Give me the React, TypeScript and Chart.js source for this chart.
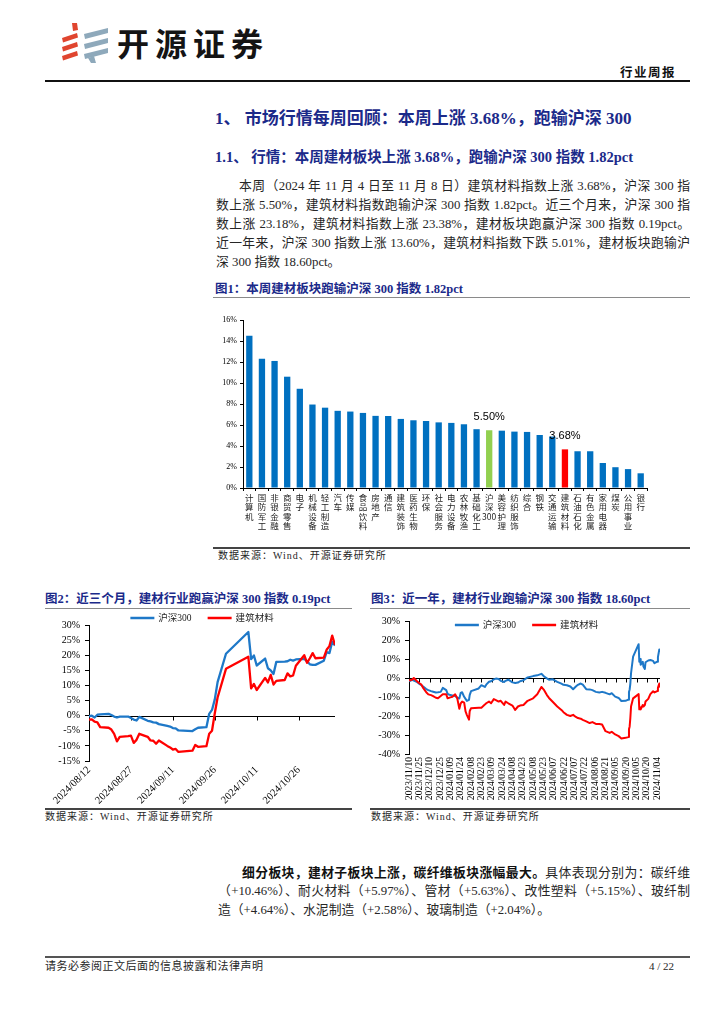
import React, { useEffect, useRef } from 'react';
import { Chart, registerables } from 'chart.js';

Chart.register(...registerables);

const SERIF = '"Liberation Serif", "Times New Roman", "Noto Sans CJK SC", serif';
const SANS_CJK = '"Noto Sans CJK SC", "Noto Sans", sans-serif';
const NAVY = '#1B2A8A';
const BAR_BLUE = '#0070C0';
const BAR_GREEN = '#92D050';
const BAR_RED = '#FF0000';
const LINE_BLUE = '#1E78C8';
const LINE_RED = '#FF0000';

// ---------- 图1 data ----------
const industries = ['计算机', '国防军工', '非银金融', '商贸零售', '电子', '机械设备', '轻工制造', '汽车', '传媒', '食品饮料', '房地产', '通信', '建筑装饰', '医药生物', '环保', '社会服务', '电力设备', '农林牧渔', '基础化工', '沪深300', '美容护理', '纺织服饰', '综合', '钢铁', '交通运输', '建筑材料', '石油石化', '有色金属', '家用电器', '煤炭', '公用事业', '银行'];
const weeklyChange = [14.5, 12.3, 12.1, 10.6, 9.45, 7.95, 7.65, 7.35, 7.28, 7.15, 6.87, 6.86, 6.58, 6.45, 6.38, 6.25, 6.2, 6.07, 5.6, 5.5, 5.46, 5.37, 5.34, 5.05, 4.9, 3.68, 3.5, 3.5, 2.38, 1.98, 1.8, 1.4];
const highlightNames = ['沪深300', '建筑材料'];

// ---------- 图2 data (近三个月) ----------
const quarterDates = [
  '2024/08/12', '2024/08/13', '2024/08/14', '2024/08/15', '2024/08/16', '2024/08/19', '2024/08/20', '2024/08/21', '2024/08/22', '2024/08/23', '2024/08/26', '2024/08/27', '2024/08/28', '2024/08/29', '2024/08/30',
  '2024/09/02', '2024/09/03', '2024/09/04', '2024/09/05', '2024/09/06', '2024/09/09', '2024/09/10', '2024/09/11', '2024/09/12', '2024/09/13', '2024/09/18', '2024/09/19', '2024/09/20', '2024/09/23', '2024/09/24', '2024/09/25', '2024/09/26', '2024/09/27', '2024/09/30',
  '2024/10/08', '2024/10/09', '2024/10/10', '2024/10/11', '2024/10/14', '2024/10/15', '2024/10/16', '2024/10/17', '2024/10/18', '2024/10/21', '2024/10/22', '2024/10/23', '2024/10/24', '2024/10/25', '2024/10/28', '2024/10/29', '2024/10/30', '2024/10/31',
  '2024/11/01', '2024/11/04', '2024/11/05', '2024/11/06', '2024/11/07', '2024/11/08'];
const quarterHS300 = [
  -0.2, 0.0, -0.6, 0.3, 0.4, 0.6, 0.2, -0.3, -0.6, -0.3, -0.3, -0.8, -1.3, -1.6, -0.4,
  -1.7, -1.9, -2.2, -2.3, -2.8, -3.4, -3.6, -4.1, -4.2, -4.9, -5.1, -4.5, -4.0, -3.8, 0.6, 1.9, 5.4, 11.1, 20.5,
  27.7, 18.7, 19.9, 16.6, 18.9, 15.7, 15.0, 13.8, 17.8, 17.9, 18.0, 18.5, 18.2, 18.6, 18.8, 18.0, 17.0, 16.8,
  16.8, 18.2, 21.0, 20.7, 24.5, 23.2];
const quarterJCCL = [
  -1.3, -1.2, -2.0, -2.2, -3.8, -4.0, -4.6, -6.0, -8.5, -7.0, -6.8, -6.6, -9.0, -8.0, -6.0,
  -7.0, -8.2, -8.3, -9.3, -8.2, -10.0, -10.5, -11.2, -11.0, -12.0, -11.6, -9.7, -10.3, -10.1, -6.0, -5.0, 0.8, 6.0, 15.5,
  19.5, 9.0, 10.5, 8.5, 12.5, 11.0, 13.5, 10.3, 11.5, 11.8, 14.0, 13.0, 13.3, 16.5, 20.0, 17.5, 19.0, 20.7,
  19.0, 19.2, 21.8, 23.0, 26.5, 23.4];
const quarterTicks = ['2024/08/12', '2024/08/27', '2024/09/11', '2024/09/26', '2024/10/11', '2024/10/26'];

// ---------- 图3 data (近一年) ----------
const yearDates = [
  '2023/11/10', '2023/11/15', '2023/11/17', '2023/11/22', '2023/11/24', '2023/11/28', '2023/12/01', '2023/12/05', '2023/12/08', '2023/12/12', '2023/12/15', '2023/12/19', '2023/12/22', '2023/12/26', '2023/12/29',
  '2024/01/03', '2024/01/05', '2024/01/09', '2024/01/12', '2024/01/16', '2024/01/19', '2024/01/22', '2024/01/24', '2024/01/26', '2024/01/29', '2024/01/31', '2024/02/02', '2024/02/05', '2024/02/06', '2024/02/08',
  '2024/02/19', '2024/02/23', '2024/02/28', '2024/03/01', '2024/03/05', '2024/03/08', '2024/03/12', '2024/03/15', '2024/03/19', '2024/03/22', '2024/03/27', '2024/03/29',
  '2024/04/02', '2024/04/08', '2024/04/12', '2024/04/16', '2024/04/19', '2024/04/24', '2024/04/30',
  '2024/05/08', '2024/05/14', '2024/05/20', '2024/05/24', '2024/05/28', '2024/05/31',
  '2024/06/05', '2024/06/12', '2024/06/18', '2024/06/21', '2024/06/26',
  '2024/07/01', '2024/07/05', '2024/07/09', '2024/07/12', '2024/07/16', '2024/07/19', '2024/07/24', '2024/07/29',
  '2024/08/02', '2024/08/07', '2024/08/12', '2024/08/16', '2024/08/21', '2024/08/27', '2024/08/30',
  '2024/09/04', '2024/09/09', '2024/09/13', '2024/09/19', '2024/09/23', '2024/09/24', '2024/09/25', '2024/09/26', '2024/09/27', '2024/09/30',
  '2024/10/08', '2024/10/09', '2024/10/10', '2024/10/11', '2024/10/14', '2024/10/15', '2024/10/17', '2024/10/18', '2024/10/22', '2024/10/25', '2024/10/29', '2024/10/31',
  '2024/11/04', '2024/11/05', '2024/11/07', '2024/11/08'];
const yearHS300 = [
  -1.7, -1.0, -1.4, -2.2, -2.8, -3.8, -4.6, -5.8, -6.4, -6.9, -7.2, -7.6, -7.5, -7.3, -5.2,
  -6.4, -8.4, -9.0, -9.2, -9.5, -10.4, -10.8, -7.8, -7.5, -9.9, -11.0, -12.1, -11.5, -9.0, -6.9,
  -5.5, -3.8, -4.7, -3.5, -2.0, -1.7, -0.7, -0.3, -0.5, -1.5, -2.1, -1.5,
  -0.9, -2.3, -2.6, -2.4, -1.7, -1.2, 0.3,
  1.0, 1.4, 2.2, 0.8, -0.2, -0.9,
  -0.6, -2.0, -3.0, -3.6, -3.8,
  -4.5, -5.9, -4.5, -3.6, -2.9, -3.5, -5.9, -6.0,
  -6.4, -7.3, -7.6, -7.3, -7.8, -8.6, -8.0,
  -9.8, -10.5, -12.1, -12.0, -11.4, -7.4, -6.0, -2.9, 2.5, 11.2,
  17.8, 8.6, 10.0, 7.0, 8.5, 6.0, 4.8, 8.3, 9.2, 9.5, 9.0, 7.8,
  8.6, 11.0, 15.0, 13.6];
const yearJCCL = [
  -1.4, -0.8, 0.0, -1.8, -2.5, -3.5, -5.5, -7.5, -8.6, -9.0, -9.5, -10.4, -10.7, -9.5, -8.6,
  -8.6, -10.7, -10.2, -9.9, -8.6, -10.7, -16.2, -13.3, -12.4, -13.0, -17.6, -19.5, -21.9, -17.5, -15.9,
  -15.6, -15.6, -14.0, -13.3, -12.4, -13.3, -11.1, -11.6, -12.4, -12.0, -14.2, -12.4,
  -13.3, -14.5, -16.8, -15.0, -14.5, -14.2, -12.0,
  -10.7, -8.6, -4.7, -6.4, -9.0, -10.5,
  -12.4, -15.0, -16.8, -18.0, -19.4,
  -20.0, -19.4, -20.5, -21.1, -21.4, -22.0, -22.8, -23.7,
  -23.2, -24.2, -24.2, -24.5, -28.0, -28.9, -28.3,
  -29.7, -30.6, -31.8, -31.5, -31.1, -27.0, -25.5, -21.0, -15.0, -10.7,
  -8.5, -16.5, -15.5, -16.5, -14.2, -15.0, -14.2, -12.4, -11.0, -8.5, -7.0, -7.6,
  -6.9, -5.2, -2.9, -5.0];
const yearTicks = ['2023/11/10', '2023/11/25', '2023/12/10', '2023/12/25', '2024/01/09', '2024/01/24', '2024/02/08', '2024/02/23', '2024/03/09', '2024/03/24', '2024/04/08', '2024/04/23', '2024/05/08', '2024/05/23', '2024/06/07', '2024/06/22', '2024/07/07', '2024/07/22', '2024/08/06', '2024/08/21', '2024/09/05', '2024/09/20', '2024/10/05', '2024/10/20', '2024/11/04'];

const seriesNames = ['沪深300', '建筑材料'];

// ---------- text ----------
const para1Lines = [
  '本周（2024 年 11 月 4 日至 11 月 8 日）建筑材料指数上涨 3.68%，沪深 300 指',
  '数上涨 5.50%，建筑材料指数跑输沪深 300 指数 1.82pct。近三个月来，沪深 300 指',
  '数上涨 23.18%，建筑材料指数上涨 23.38%，建材板块跑赢沪深 300 指数 0.19pct。',
  '近一年来，沪深 300 指数上涨 13.60%，建筑材料指数下跌 5.01%，建材板块跑输沪',
];
const para1Last = '深 300 指数 18.60pct。';
const para2Bold = '细分板块，建材子板块上涨，碳纤维板块涨幅最大。';
const para2Line1 = '具体表现分别为：碳纤维';
const para2Line2 = '（+10.46%）、耐火材料（+5.97%）、管材（+5.63%）、改性塑料（+5.15%）、玻纤制';
const para2Last = '造（+4.64%）、水泥制造（+2.58%）、玻璃制造（+2.04%）。';

const DAY_MS = 86400000;
function dayOffset(date: string, base: string): number {
  const [a, b, c] = date.split('/').map(Number);
  const [d, e, f] = base.split('/').map(Number);
  return Math.round((Date.UTC(a, b - 1, c) - Date.UTC(d, e - 1, f)) / DAY_MS);
}

function stackLabel(s: string): string[] {
  return s.match(/[0-9A-Za-z]+|./g) || [s];
}

// ---------- plugins ----------
const barValueLabels = {
  id: 'barValueLabels',
  afterDatasetsDraw(chart: any, _args: any, opts: any) {
    const { ctx } = chart;
    const meta = chart.getDatasetMeta(0);
    const labels: string[] = chart.data.labels;
    const values: number[] = chart.data.datasets[0].data;
    ctx.save();
    ctx.font = '11px "Liberation Sans", "Noto Sans", sans-serif';
    ctx.fillStyle = '#000';
    ctx.textAlign = 'center';
    ctx.textBaseline = 'middle';
    (opts.names || []).forEach((name: string) => {
      const i = labels.indexOf(name);
      if (i < 0) return;
      const bar = meta.data[i];
      ctx.fillText(values[i].toFixed(2) + '%', bar.x, bar.y - 13);
    });
    ctx.restore();
  },
};

const zeroLine = {
  id: 'zeroLine',
  beforeDatasetsDraw(chart: any) {
    const { ctx, chartArea } = chart;
    const y = Math.round(chart.scales.y.getPixelForValue(0)) + 0.5;
    ctx.save();
    ctx.strokeStyle = '#000';
    ctx.lineWidth = 1;
    ctx.beginPath();
    ctx.moveTo(chartArea.left, y);
    ctx.lineTo(chartArea.right, y);
    chart.scales.x.ticks.forEach((t: any) => {
      const x = Math.round(chart.scales.x.getPixelForValue(t.value)) + 0.5;
      ctx.moveTo(x, y);
      ctx.lineTo(x, y + 4);
    });
    ctx.stroke();
    ctx.restore();
  },
};

const lineLegend = {
  id: 'lineLegend',
  afterDraw(chart: any, _args: any, opts: any) {
    const { ctx, chartArea } = chart;
    ctx.save();
    ctx.font = `${opts.fontSize || 9.5}px ${SERIF}`;
    const sample = opts.sampleWidth || 24;
    const gap = 4;
    const itemGap = 16;
    const items = chart.data.datasets.map((ds: any) => ({ text: ds.label, color: ds.borderColor }));
    const widths = items.map((it: any) => sample + gap + ctx.measureText(it.text).width);
    const total = widths.reduce((a: number, b: number) => a + b, 0) + itemGap * (items.length - 1);
    let x = (chartArea.left + chartArea.right) / 2 + (opts.offsetX || 0) - total / 2;
    const y = chartArea.top + (opts.offsetY || 0);
    items.forEach((it: any, i: number) => {
      ctx.strokeStyle = it.color;
      ctx.lineWidth = 2.5;
      ctx.beginPath();
      ctx.moveTo(x, y);
      ctx.lineTo(x + sample, y);
      ctx.stroke();
      ctx.fillStyle = '#222';
      ctx.textAlign = 'left';
      ctx.textBaseline = 'middle';
      ctx.fillText(it.text, x + sample + gap, y + 0.5);
      x += widths[i] + itemGap;
    });
    ctx.restore();
  },
};

// ---------- chart configs ----------
function barConfig(): any {
  return {
    type: 'bar',
    data: {
      labels: industries,
      datasets: [{
        data: weeklyChange,
        backgroundColor: industries.map((n) => (n === '沪深300' ? BAR_GREEN : n === '建筑材料' ? BAR_RED : BAR_BLUE)),
        barPercentage: 0.5,
        categoryPercentage: 1,
      }],
    },
    options: {
      responsive: false,
      animation: false,
      layout: { padding: { left: 0, right: 43, top: 15, bottom: 0 } },
      plugins: { legend: { display: false }, tooltip: { enabled: false }, barValueLabels: { names: highlightNames } },
      scales: {
        x: {
          grid: { display: true, drawOnChartArea: false, drawTicks: true, tickLength: 3, color: '#000', offset: true },
          border: { color: '#000', width: 1 },
          ticks: {
            autoSkip: false, maxRotation: 0, minRotation: 0, padding: 2, color: '#222',
            font: { family: SANS_CJK, size: 8.5, lineHeight: 1.1 },
            callback: (_v: any, i: number) => stackLabel(industries[i]),
          },
          afterFit: (s: any) => { s.height = 57; },
        },
        y: {
          min: 0, max: 16,
          ticks: { stepSize: 2, padding: 3, color: '#000', font: { family: SERIF, size: 8 }, callback: (v: any) => v + '%' },
          grid: { drawOnChartArea: false, tickLength: 3, color: '#000' },
          border: { color: '#000', width: 1 },
          afterFit: (s: any) => { s.width = 30; },
        },
      },
    },
    plugins: [barValueLabels],
  };
}

function lineConfig(p: {
  dates: string[]; hs: number[]; jc: number[]; ticks: string[];
  yMin: number; yMax: number; yStep: number; rotation: number; xFont: number;
  yWidth: number; xHeight: number; padRight: number; padTop: number;
  legendX: number; legendY: number; lineWidth: number;
}): any {
  const base = p.dates[0];
  const xs = p.dates.map((d) => dayOffset(d, base));
  const tickVals = p.ticks.map((d) => dayOffset(d, base));
  return {
    type: 'line',
    data: {
      datasets: [
        { label: seriesNames[0], data: xs.map((x, i) => ({ x, y: p.hs[i] })), borderColor: LINE_BLUE, backgroundColor: LINE_BLUE, borderWidth: p.lineWidth, pointRadius: 0, tension: 0, order: 2, borderJoinStyle: 'round' },
        { label: seriesNames[1], data: xs.map((x, i) => ({ x, y: p.jc[i] })), borderColor: LINE_RED, backgroundColor: LINE_RED, borderWidth: p.lineWidth, pointRadius: 0, tension: 0, order: 1, borderJoinStyle: 'round' },
      ],
    },
    options: {
      responsive: false,
      animation: false,
      layout: { padding: { left: 0, right: p.padRight, top: p.padTop, bottom: 0 } },
      plugins: { legend: { display: false }, tooltip: { enabled: false }, lineLegend: { offsetX: p.legendX, offsetY: p.legendY, fontSize: 9.5, sampleWidth: 24 } },
      scales: {
        x: {
          type: 'linear',
          min: 0,
          max: xs[xs.length - 1],
          afterBuildTicks: (s: any) => { s.ticks = tickVals.map((v) => ({ value: v })); },
          ticks: {
            autoSkip: false, maxRotation: p.rotation, minRotation: p.rotation, padding: 3, color: '#000',
            font: { family: SERIF, size: p.xFont },
            callback: (_v: any, i: number) => p.ticks[i],
          },
          grid: { display: false, drawTicks: false },
          border: { display: false },
          afterFit: (s: any) => { s.height = p.xHeight; },
        },
        y: {
          min: p.yMin, max: p.yMax,
          ticks: { stepSize: p.yStep, padding: 5, color: '#000', font: { family: SERIF, size: 10 }, callback: (v: any) => v + '%' },
          grid: { drawOnChartArea: false, tickLength: 4, color: '#000' },
          border: { color: '#000', width: 1 },
          afterFit: (s: any) => { s.width = p.yWidth; },
        },
      },
    },
    plugins: [zeroLine, lineLegend],
  };
}

function ChartBox({ left, top, width, height, build }: { left: number; top: number; width: number; height: number; build: () => any }) {
  const ref = useRef<HTMLCanvasElement>(null);
  useEffect(() => {
    const chart = new Chart(ref.current as HTMLCanvasElement, build());
    return () => chart.destroy();
  }, []);
  return (
    <div style={{ position: 'absolute', left, top, width, height }}>
      <canvas ref={ref} width={width} height={height} style={{ width, height, display: 'block' }} />
    </div>
  );
}

function Txt({ x, cy, size, lh, children, style }: { x: number; cy: number; size: number; lh: number; children: any; style?: any }) {
  return (
    <div style={{ position: 'absolute', left: x, top: cy - lh / 2, fontSize: size, lineHeight: lh + 'px', whiteSpace: 'nowrap', ...style }}>
      {children}
    </div>
  );
}

function Rule({ x, y, w, h, color }: { x: number; y: number; w: number; h: number; color: string }) {
  return <div style={{ position: 'absolute', left: x, top: y, width: w, height: h, background: color }} />;
}

function Logo() {
  const red = '#E0452F';
  const grey = '#8EA9BB';
  return (
    <svg style={{ position: 'absolute', left: 0, top: 0 }} width={120} height={70}>
      <polygon points="72,23 77,23 78,30 73,31" fill={red} />
      {[33, 42, 51].map((y) => (
        <polygon key={'r' + y} points={`62,${y + 5} 77,${y} 78,${y + 4.5} 63,${y + 9.5}`} fill={red} />
      ))}
      {[28, 38, 48].map((y) => (
        <polygon key={'g' + y} points={`84,${y + 6} 108,${y} 108,${y + 5} 85,${y + 11}`} fill={grey} />
      ))}
      <polygon points="88,58 94,56 96,63 91,63" fill={grey} />
    </svg>
  );
}

export default function App() {
  const bodyColor = '#262626';
  const justified = { textAlign: 'justify' as const, textAlignLast: 'justify' as const, whiteSpace: 'normal' as const };
  return (
    <div style={{ position: 'absolute', left: 0, top: 0, width: 724, height: 1024, background: '#fff', overflow: 'hidden', fontFamily: SERIF, color: bodyColor }}>
      <Logo />
      <Txt x={117} cy={42} size={32} lh={38} style={{ fontFamily: SANS_CJK, fontWeight: 700, letterSpacing: 6, color: '#141414' }}>开源证券</Txt>
      <div style={{ position: 'absolute', right: 48, top: 65, fontSize: 12.5, lineHeight: '16px', fontWeight: 700, letterSpacing: 1.5, color: '#111' }}>行业周报</div>
      <Rule x={45} y={80} w={645} h={1.5} color="#111" />

      <Txt x={215} cy={119} size={17} lh={22} style={{ fontWeight: 700, color: NAVY }}>1、 市场行情每周回顾：本周上涨 3.68%，跑输沪深 300</Txt>
      <Txt x={215} cy={157} size={14.5} lh={20} style={{ fontWeight: 700, color: NAVY }}>1.1、 行情：本周建材板块上涨 3.68%，跑输沪深 300 指数 1.82pct</Txt>

      {para1Lines.map((line, i) => (
        <div key={i} style={{ position: 'absolute', left: i === 0 ? 239 : 216, top: 186 + i * 19 - 9.5, width: i === 0 ? 451 : 474, fontSize: 12.8, lineHeight: '19px', ...justified }}>{line}</div>
      ))}
      <Txt x={216} cy={186 + 4 * 19} size={12.8} lh={19}>{para1Last}</Txt>

      <Txt x={215} cy={289} size={12.5} lh={16} style={{ fontWeight: 700, color: NAVY }}>图1：本周建材板块跑输沪深 300 指数 1.82pct</Txt>
      <Rule x={213} y={297} w={477} h={1} color="#8a8a8a" />
      <ChartBox left={213} top={305} width={477} height={240} build={barConfig} />
      <Rule x={213} y={547} w={477} h={1.5} color="#444" />
      <Txt x={218} cy={556} size={10} lh={14} style={{ letterSpacing: 1 }}>数据来源：Wind、开源证券研究所</Txt>

      <Txt x={45} cy={599} size={12.5} lh={16} style={{ fontWeight: 700, color: NAVY }}>图2：近三个月，建材行业跑赢沪深 300 指数 0.19pct</Txt>
      <Txt x={371} cy={599} size={12.5} lh={16} style={{ fontWeight: 700, color: NAVY }}>图3：近一年，建材行业跑输沪深 300 指数 18.60pct</Txt>
      <Rule x={45} y={608} w={307} h={1} color="#8a8a8a" />
      <Rule x={370} y={608} w={320} h={1} color="#8a8a8a" />

      <ChartBox left={45} top={610} width={305} height={195} build={() => lineConfig({
        dates: quarterDates, hs: quarterHS300, jc: quarterJCCL, ticks: quarterTicks,
        yMin: -15, yMax: 30, yStep: 5, rotation: 45, xFont: 10.5,
        yWidth: 44, xHeight: 44, padRight: 15, padTop: 15, legendX: -10, legendY: -7, lineWidth: 2.3,
      })} />
      <ChartBox left={360} top={610} width={330} height={195} build={() => lineConfig({
        dates: yearDates, hs: yearHS300, jc: yearJCCL, ticks: yearTicks,
        yMin: -40, yMax: 30, yStep: 10, rotation: 90, xFont: 9.5,
        yWidth: 49, xHeight: 51, padRight: 30, padTop: 9, legendX: -8, legendY: 4, lineWidth: 2,
      })} />

      <Rule x={45} y={808} w={307} h={1.5} color="#444" />
      <Rule x={370} y={808} w={320} h={1.5} color="#444" />
      <Txt x={45} cy={817} size={10} lh={14} style={{ letterSpacing: 1 }}>数据来源：Wind、开源证券研究所</Txt>
      <Txt x={371} cy={817} size={10} lh={14} style={{ letterSpacing: 1 }}>数据来源：Wind、开源证券研究所</Txt>

      <div style={{ position: 'absolute', left: 242, top: 873 - 9.5, width: 448, fontSize: 12.8, lineHeight: '19px', ...justified }}>
        <span style={{ fontWeight: 700, color: '#111' }}>{para2Bold}</span>{para2Line1}
      </div>
      <div style={{ position: 'absolute', left: 218, top: 891 - 9.5, width: 472, fontSize: 12.8, lineHeight: '19px', ...justified }}>{para2Line2}</div>
      <Txt x={218} cy={910} size={12.8} lh={19}>{para2Last}</Txt>

      <Rule x={45} y={956} w={645} h={2} color="#555" />
      <Txt x={45} cy={966} size={11} lh={14} style={{ letterSpacing: 0.5 }}>请务必参阅正文后面的信息披露和法律声明</Txt>
      <div style={{ position: 'absolute', right: 50, top: 959, fontSize: 11, lineHeight: '14px' }}>4 / 22</div>
    </div>
  );
}
